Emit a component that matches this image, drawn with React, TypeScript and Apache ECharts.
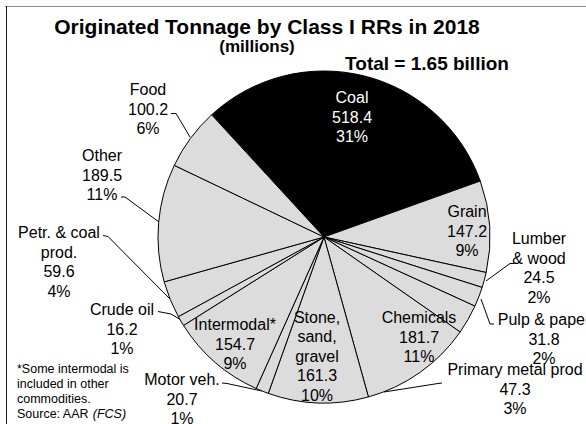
import React, { useEffect, useRef } from "react";
import * as echarts from "echarts";

const categories = [
  "Coal",
  "Grain",
  "Lumber\n& wood",
  "Pulp & paper",
  "Primary metal prod",
  "Chemicals",
  "Stone,\nsand,\ngravel",
  "Motor veh.",
  "Intermodal*",
  "Crude oil",
  "Petr. & coal\nprod.",
  "Other",
  "Food",
];
const values = [518.4, 147.2, 24.5, 31.8, 47.3, 181.7, 161.3, 20.7, 154.7, 16.2, 59.6, 189.5, 100.2];
const insideLabels = ["Coal", "Grain", "Chemicals", "Stone,\nsand,\ngravel", "Intermodal*"];

const titleText = "Originated Tonnage by Class I RRs in 2018";
const subtitleText = "(millions)";
const totalText = "Total = 1.65 billion";
const noteLines = ["*Some intermodal is", "included in other", "commodities.", "Source: AAR {i|(FCS)}"];

// label layout (pixel positions of label blocks and leader lines)
const labelLayoutTable: { x: number; y: number; line?: number[][] }[] = [
  { x: 352, y: 117 },
  { x: 467, y: 231 },
  { x: 539, y: 268, line: [[486, 281], [510, 263.5], [514, 263.5]] },
  { x: 544, y: 339, line: [[481, 299], [490, 324], [494, 324]] },
  { x: 515, y: 389, line: [[384, 392], [438, 383.5], [442, 383]] },
  { x: 419, y: 337 },
  { x: 317, y: 356 },
  { x: 182, y: 399, line: [[262, 391], [227, 383.5], [222, 383]] },
  { x: 235, y: 344 },
  { x: 122, y: 329, line: [[181, 320], [171, 314], [158, 311.5]] },
  { x: 59, y: 262, line: [[170, 299], [108, 236.5], [103, 235.5]] },
  { x: 102, y: 175, line: [[159, 222], [125, 197], [121, 197]] },
  { x: 148, y: 109, line: [[190, 137], [176, 113.5], [171, 113.5]] },
];

const FONT = "'Liberation Sans', Arial, sans-serif";

export default function App() {
  const ref = useRef<HTMLDivElement>(null);
  useEffect(() => {
    if (!ref.current) return;
    const chart = echarts.init(ref.current, null, { renderer: "svg" });
    const data = categories.map((name, i) => {
      const inside = insideLabels.includes(name);
      return {
        name,
        value: values[i],
        itemStyle: name === "Coal" ? { color: "#000" } : undefined,
        label: {
          position: inside ? "inside" : "outside",
          color: name === "Coal" ? "#fff" : "#000",
        },
        labelLine: { show: !inside },
      };
    });
    chart.setOption({
      animation: false,
      backgroundColor: "#fff",
      graphic: [
        { type: "line", shape: { x1: 5, y1: 6.5, x2: 586, y2: 6.5 }, style: { stroke: "#8c8c8c", lineWidth: 1 } },
        { type: "line", shape: { x1: 6.5, y1: 6, x2: 6.5, y2: 424 }, style: { stroke: "#1a1a1a", lineWidth: 1 } },
        {
          type: "text",
          x: 267,
          y: 26,
          style: { text: titleText, font: `bold 21px ${FONT}`, fill: "#000", textAlign: "center", textVerticalAlign: "middle" },
        },
        {
          type: "text",
          x: 257,
          y: 46,
          style: { text: subtitleText, font: `bold 17px ${FONT}`, fill: "#000", textAlign: "center", textVerticalAlign: "middle" },
        },
        {
          type: "text",
          x: 427,
          y: 63,
          style: { text: totalText, font: `bold 19px ${FONT}`, fill: "#000", textAlign: "center", textVerticalAlign: "middle" },
        },
        {
          type: "text",
          x: 17,
          y: 361,
          style: {
            text: noteLines.join("\n"),
            font: `12.5px ${FONT}`,
            fill: "#000",
            lineHeight: 15,
            textAlign: "left",
            textVerticalAlign: "top",
            rich: { i: { fontStyle: "italic", fontSize: 12.5, fontFamily: FONT, lineHeight: 15 } },
          },
        },
      ],
      series: [
        {
          type: "pie",
          center: [324, 237],
          radius: 166,
          startAngle: 132.6,
          clockwise: true,
          percentPrecision: 0,
          avoidLabelOverlap: false,
          silent: true,
          emphasis: { disabled: true },
          itemStyle: { color: "#dcdcdc", borderColor: "#000", borderWidth: 1 },
          label: {
            formatter: "{b}\n{c}\n{d}%",
            fontSize: 16,
            fontFamily: FONT,
            lineHeight: 19.5,
            color: "#000",
            align: "center",
          },
          labelLine: { show: true, smooth: false, length: 10, length2: 5, lineStyle: { color: "#000", width: 1 } },
          labelLayout: (params: any) => {
            const p = labelLayoutTable[params.dataIndex];
            const r: any = { x: p.x, y: p.y, align: "center", verticalAlign: "middle" };
            if (p.line) r.labelLinePoints = p.line;
            return r;
          },
          data,
        },
      ],
    });
    return () => chart.dispose();
  }, []);
  return (
    <div
      ref={ref}
      style={{ position: "fixed", left: 0, top: 0, width: 586, height: 424, background: "#fff" }}
    />
  );
}
